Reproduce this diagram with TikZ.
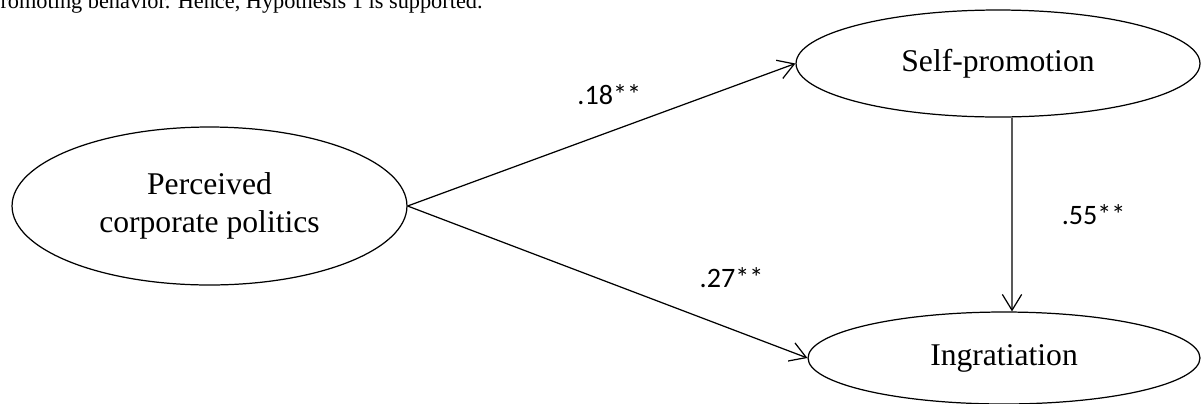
\documentclass[tikz,border=0pt]{standalone}
\usepackage{fontspec}
\setmainfont{Liberation Serif}
\newfontfamily\coeffont{Carlito}
\usepackage{tikz}
\usetikzlibrary{positioning, shapes, arrows.meta}

\begin{document}
\begin{tikzpicture}[
    x=0.02cm, y=-0.02cm,
    construct/.style={ellipse, draw, line width=0.7pt, inner sep=0pt, align=center, font=\fontsize{18}{22}\selectfont},
    coef/.style={inner sep=0pt, font=\coeffont\fontsize{16}{19}\selectfont},
    arrow/.style={-{Straight Barb[length=9pt, width=11pt]}, line width=0.7pt}
]
    \clip (0,0) rectangle (1202,403);

    % Running text above the figure (cut by the page edge)
    \node[anchor=base east, inner sep=0pt, font=\fontsize{12.7}{15}\selectfont] (bodytext) at (483,8) {promoting behavior.  Hence, Hypothesis 1 is supported.};

    % Constructs
    \node[construct, minimum width=7.9cm, minimum height=3.16cm] (perceived) at (209.5,206) {Perceived\\corporate politics};
    \node[construct, minimum width=8.08cm, minimum height=2.14cm] (selfpromo) at (998,63.5) {Self-promotion};
    \node[construct, minimum width=7.84cm, minimum height=1.84cm] (ingrat) at (1004,358) {Ingratiation};

    % Paths with coefficients
    \draw[arrow] (perceived.east) -- node[coef, pos=0.52, above=15pt] (c1) {.18**} (selfpromo.west);
    \draw[arrow] (perceived.east) -- node[coef, pos=0.81, above=23pt] (c2) {.27**} (ingrat.west);
    \draw[arrow] ([xshift=0.28cm]selfpromo.south) -- node[coef, pos=0.5, right=28pt] (c3) {.55**} ([xshift=0.16cm]ingrat.north);

\end{tikzpicture}
\end{document}
